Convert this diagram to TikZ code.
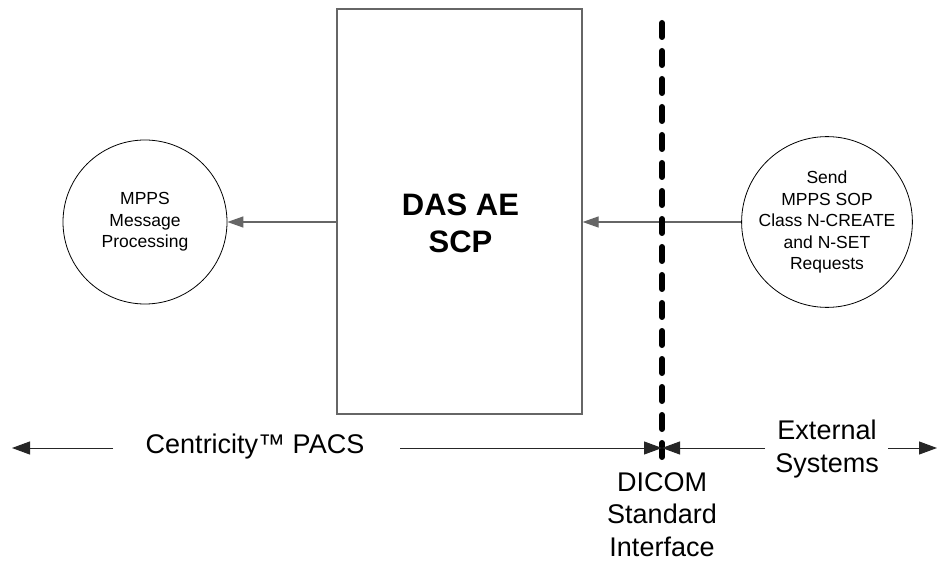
\documentclass[tikz,border=0pt]{standalone}
\usepackage{fontspec}
\setmainfont{Liberation Sans}
\usetikzlibrary{arrows.meta}
\tikzset{
  procbox/.style={draw=black!60, line width=1.3pt, minimum width=245pt, minimum height=405pt, inner sep=0pt},
  proc/.style={draw=black, line width=0.8pt, circle, minimum size=164pt, inner sep=0pt, align=center, font=\fontsize{17.5}{21.5}\selectfont},
  flow/.style={draw=black!60, line width=1.3pt, -{Triangle[length=16pt,width=11pt]}},
  span/.style={draw=black!85, line width=1pt, -{Triangle[length=18pt,width=13pt]}},
  bigtxt/.style={align=center, inner sep=0pt, font=\fontsize{27}{32.5}\selectfont},
  boundary/.style={line width=6pt, line cap=round, dash pattern=on 14pt off 14pt}
}
\begin{document}
\begin{tikzpicture}[x=1pt,y=-1pt]
\useasboundingbox[fill=white] (0,0) rectangle (937,561);
% main box
\node[procbox] (das) at (459.5,211.5) {};
\node[align=center, inner sep=0pt, font=\fontsize{31}{37}\selectfont\bfseries] (dastxt) at (460.5,223.5) {DAS AE\\SCP};
% circles
\node[proc] (mpps) at (145,222) {MPPS\\Message\\Processing};
\node[proc] (send) at (827,222) {Send\\MPPS SOP\\Class N-CREATE\\and N-SET\\Requests};
% flows
\draw[flow] (das.west |- mpps) -- (mpps.east);
\draw[flow] (send.west) -- (das.east |- send);
% boundary
\coordinate (btop) at (662,23);
\coordinate (bbot) at (662,457);
\draw[boundary] (btop) -- (bbot);
% bottom labels
\node[bigtxt] (pacs) at (255,447) {Centricity™ PACS};
\node[bigtxt] (ext) at (827,449) {External\\Systems};
\node[bigtxt] (dicom) at (662,514.5) {DICOM\\Standard\\Interface};
\coordinate (lend) at (12,448);
\coordinate (mid) at (662,448);
\coordinate (rend) at (937,448);
\coordinate (a1) at (113,448);
\coordinate (a2) at (400,448);
\coordinate (a3) at (765,448);
\coordinate (a4) at (888,448);
\draw[span] (a1) -- (lend);
\draw[span] (a2) -- (mid);
\draw[span] (a3) -- (mid);
\draw[span] (a4) -- (rend);
\end{tikzpicture}
\end{document}
